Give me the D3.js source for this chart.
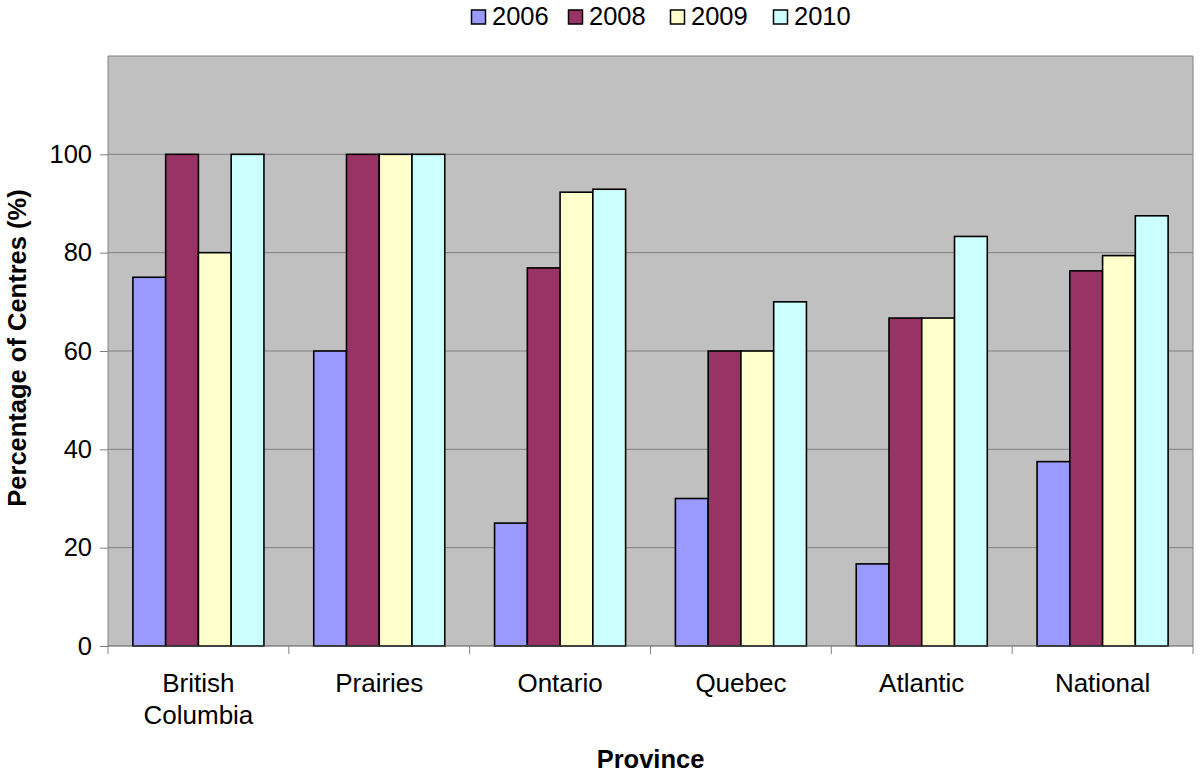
<!DOCTYPE html>
<html><head><meta charset="utf-8">
<script src="https://cdn.jsdelivr.net/npm/d3@7"></script>
<style>body{margin:0;background:#fff}svg{display:block;font-family:"Liberation Sans",Arial,sans-serif}</style>
</head><body><svg id="c" width="1200" height="774"></svg>
<script>
const categories = ["British Columbia","Prairies","Ontario","Quebec","Atlantic","National"];
const seriesNames = ["2006","2008","2009","2010"];
const v2006 = [75, 60, 25, 30, 16.7, 37.5];
const v2008 = [100, 100, 76.9, 60, 66.7, 76.3];
const v2009 = [80, 100, 92.3, 60, 66.7, 79.4];
const v2010 = [100, 100, 92.9, 70, 83.3, 87.5];
const yTicks = [0, 20, 40, 60, 80, 100];
const colors = ["#9999FF","#993366","#FFFFCC","#CCFFFF"];
const values = [v2006, v2008, v2009, v2010];

const svg = d3.select("#c");
const L = 108, R = 1193, T = 56, B = 646;
const x = d3.scaleBand().domain(categories).range([L, R]);
const x1 = d3.scaleBand().domain(seriesNames).range([0, x.bandwidth()]).paddingInner(0).paddingOuter(0.76);
const y = d3.scaleLinear().domain([0, 120]).range([B, T]);

svg.append("rect").attr("x", L).attr("y", T).attr("width", R - L).attr("height", B - T).attr("fill", "#C0C0C0");
// gridlines
svg.append("g").selectAll("line").data(yTicks.filter(d => d > 0).concat([120])).join("line")
  .attr("x1", L).attr("x2", R).attr("y1", d => y(d)).attr("y2", d => y(d))
  .attr("stroke", "#808080").attr("stroke-width", 1);
// right border
svg.append("line").attr("x1", R).attr("x2", R).attr("y1", T).attr("y2", B).attr("stroke", "#808080");

// bars
const rows = categories.map((c, i) => ({c, vals: seriesNames.map((s, j) => ({s, v: values[j][i], j}))}));
svg.append("g").selectAll("g").data(rows).join("g")
  .attr("transform", d => `translate(${x(d.c)},0)`)
  .selectAll("rect").data(d => d.vals).join("rect")
  .attr("x", d => x1(d.s)).attr("width", x1.bandwidth())
  .attr("y", d => y(d.v)).attr("height", d => B - y(d.v))
  .attr("fill", d => colors[d.j]).attr("stroke", "#000").attr("stroke-width", 1.6);

// y axis
const ya = svg.append("g").attr("transform", `translate(${L},0)`)
  .call(d3.axisLeft(y).tickValues(yTicks).tickSize(8).tickPadding(8).tickSizeOuter(0));
ya.select(".domain").attr("stroke", "#808080").attr("d", `M0,${T}V${B}`);
ya.selectAll(".tick line").attr("stroke", "#808080");
ya.selectAll("text").attr("font-size", 25.5).attr("fill", "#000").style("font-family", "Liberation Sans, Arial, sans-serif");

// x axis
const xa = svg.append("g").attr("transform", `translate(0,${B})`)
  .call(d3.axisBottom(x).tickSize(0).tickFormat(""));
xa.select(".domain").attr("stroke", "#555").attr("d", `M${L},0H${R}`);
const bounds = categories.map(c => x(c)).concat([R]);
svg.append("g").selectAll("line").data(bounds).join("line")
  .attr("x1", d => d).attr("x2", d => d).attr("y1", B).attr("y2", B + 8).attr("stroke", "#808080");
const lab = svg.append("g").selectAll("text").data(categories).join("text")
  .attr("x", d => x(d) + x.bandwidth() / 2).attr("y", 692)
  .attr("text-anchor", "middle").attr("font-size", 26).attr("fill", "#000");
lab.each(function(d) {
  const parts = d === "British Columbia" ? ["British", "Columbia"] : [d];
  const t = d3.select(this);
  parts.forEach((p, i) => t.append("tspan").attr("x", x(d) + x.bandwidth() / 2).attr("dy", i ? 32 : 0).text(p));
});

// axis titles
svg.append("text").attr("x", (L + R) / 2).attr("y", 768).attr("text-anchor", "middle")
  .attr("font-size", 25.5).attr("font-weight", "bold").text("Province");
svg.append("text").attr("transform", "translate(26,348) rotate(-90)").attr("text-anchor", "middle")
  .attr("font-size", 25.5).attr("font-weight", "bold").text("Percentage of Centres (%)");

// legend
const lx = [471, 568, 670, 773];
const lg = svg.append("g").selectAll("g").data(seriesNames).join("g")
  .attr("transform", (d, i) => `translate(${lx[i]},0)`);
lg.append("rect").attr("x", 0.5).attr("y", 10).attr("width", 14).attr("height", 14)
  .attr("fill", (d, i) => colors[i]).attr("stroke", "#000").attr("stroke-width", 1.5);
lg.append("text").attr("x", 21).attr("y", 25).attr("font-size", 25.5).text(d => d);
</script></body></html>
